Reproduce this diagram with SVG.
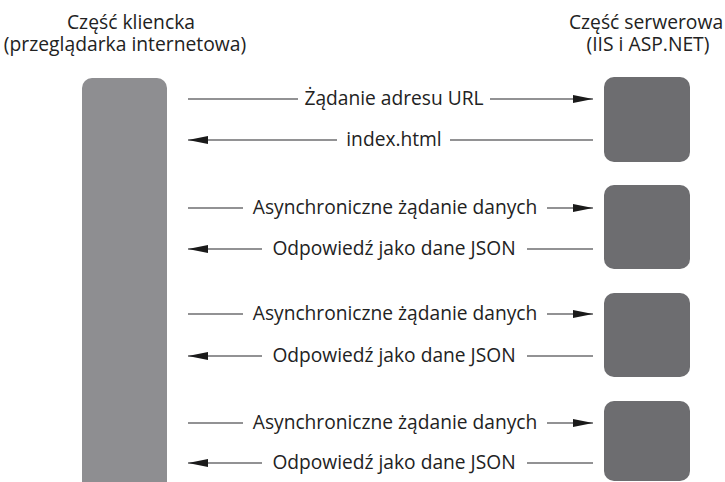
<svg xmlns="http://www.w3.org/2000/svg" width="725" height="482" viewBox="0 0 725 482">
<style>
.t{font-family:"Open Sans","Noto Sans","Liberation Sans",sans-serif;font-size:19.2px;fill:#222222;text-anchor:middle}
.h{font-family:"Open Sans","Noto Sans","Liberation Sans",sans-serif;font-size:19.3px;fill:#222222;text-anchor:middle}
.ln{stroke:#6e6e70;stroke-width:1.7;fill:none}
.client{fill:#8e8e91}
.server{fill:#6d6d70}
</style>
<defs>
<marker id="ah" markerUnits="userSpaceOnUse" markerWidth="20" markerHeight="8" refX="20" refY="4" orient="auto">
<path d="M0,0 L20,4 L0,8 Z" fill="#1a1a1a"/>
</marker>
</defs>
<rect width="725" height="482" fill="#ffffff"/>
<g id="header-client">
<text class="h" x="131" y="29">Część kliencka</text>
<text class="h" x="125" y="51">(przeglądarka internetowa)</text>
</g>
<g id="header-server">
<text class="h" x="646" y="29">Część serwerowa</text>
<text class="h" x="648" y="51">(IIS i ASP.NET)</text>
</g>
<g id="client">
<rect class="client" x="82" y="78" width="85" height="420" rx="10"/>
</g>
<g id="server1"><rect class="server" x="604" y="77" width="86" height="85" rx="10"/></g>
<g id="server2"><rect class="server" x="604" y="185" width="86" height="84" rx="10"/></g>
<g id="server3"><rect class="server" x="604" y="293" width="86" height="84" rx="10"/></g>
<g id="server4"><rect class="server" x="604" y="401" width="86" height="80" rx="10"/></g>
<g id="connectors">
<line class="ln" x1="188" y1="99" x2="298" y2="99"/>
<line class="ln" x1="490" y1="99" x2="593" y2="99" marker-end="url(#ah)"/>
<text class="t" x="394" y="105">Żądanie adresu URL</text>

<line class="ln" x1="337" y1="140" x2="188" y2="140" marker-end="url(#ah)"/>
<line class="ln" x1="450" y1="140" x2="593" y2="140"/>
<text class="t" x="394" y="146">index.html</text>

<line class="ln" x1="188" y1="208" x2="243" y2="208"/>
<line class="ln" x1="547" y1="208" x2="593" y2="208" marker-end="url(#ah)"/>
<text class="t" x="395" y="214">Asynchroniczne żądanie danych</text>

<line class="ln" x1="262" y1="249" x2="188" y2="249" marker-end="url(#ah)"/>
<line class="ln" x1="527" y1="249" x2="593" y2="249"/>
<text class="t" x="394" y="255">Odpowiedź jako dane JSON</text>

<line class="ln" x1="188" y1="314" x2="243" y2="314"/>
<line class="ln" x1="547" y1="314" x2="593" y2="314" marker-end="url(#ah)"/>
<text class="t" x="395" y="320">Asynchroniczne żądanie danych</text>

<line class="ln" x1="262" y1="356" x2="188" y2="356" marker-end="url(#ah)"/>
<line class="ln" x1="527" y1="356" x2="593" y2="356"/>
<text class="t" x="394" y="362">Odpowiedź jako dane JSON</text>

<line class="ln" x1="188" y1="423" x2="243" y2="423"/>
<line class="ln" x1="547" y1="423" x2="593" y2="423" marker-end="url(#ah)"/>
<text class="t" x="395" y="429">Asynchroniczne żądanie danych</text>

<line class="ln" x1="262" y1="463" x2="188" y2="463" marker-end="url(#ah)"/>
<line class="ln" x1="527" y1="463" x2="593" y2="463"/>
<text class="t" x="394" y="469">Odpowiedź jako dane JSON</text>
</g>
</svg>
